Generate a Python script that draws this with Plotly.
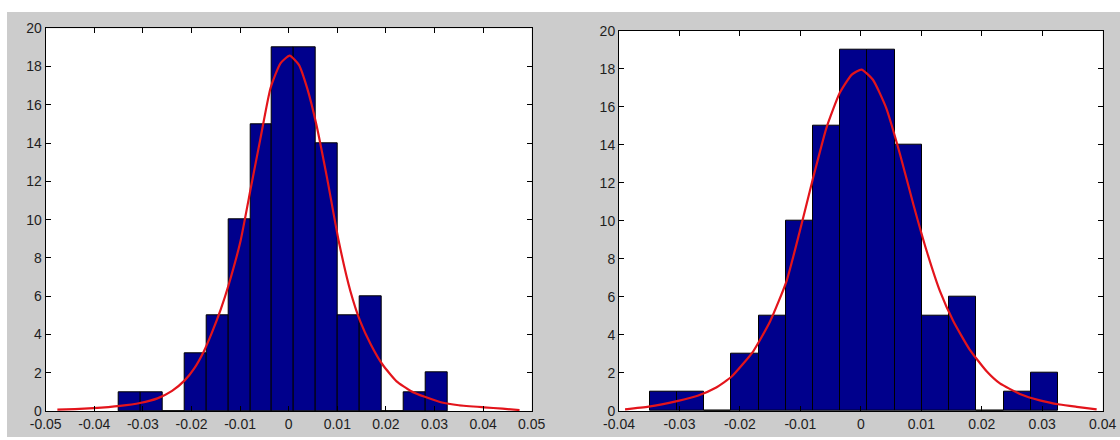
import plotly.graph_objects as go

# ---- data ----
bin_centers = [-0.03268, -0.02818, -0.02368, -0.01917, -0.01467, -0.01017, -0.00566,
               -0.00116, 0.00334, 0.00785, 0.01235, 0.01685, 0.02136, 0.02586, 0.03037]
bin_width = 0.004503
counts_left = [1, 1, 0, 3, 5, 10, 15, 19, 19, 14, 5, 6, 0, 1, 2]
counts_right = [1, 1, 0, 3, 5, 10, 15, 19, 19, 14, 5, 6, 0, 1, 2]

fit_left_x = [-0.0476, -0.0440, -0.0402, -0.0347, -0.0306, -0.0270, -0.0240, -0.0214,
              -0.0195, -0.0175, -0.0158, -0.0140, -0.01235, -0.0099, -0.0078, -0.0058,
              -0.00375, -0.0017, 0.0002, 0.0021, 0.0038, 0.0057, 0.0079, 0.0103, 0.0127,
              0.0147, 0.0169, 0.0193, 0.0222, 0.0251, 0.0280, 0.0313, 0.0350, 0.0402,
              0.0440, 0.0475]
fit_left_y = [0.07, 0.10, 0.15, 0.27, 0.42, 0.66, 1.05, 1.60, 2.20, 3.10, 4.10, 5.30, 6.60,
              8.90, 11.65, 14.26, 16.87, 18.17, 18.57, 18.09, 16.87, 14.96, 12.17, 8.87,
              6.26, 4.70, 3.48, 2.43, 1.55, 1.05, 0.74, 0.46, 0.30, 0.19, 0.12, 0.05]

fit_right_x = [-0.0390, -0.0351, -0.0304, -0.0270, -0.0240, -0.0214, -0.0178, -0.0150,
               -0.0123, -0.0101, -0.0079, -0.0057, -0.0035, -0.0015, 0.0001, 0.0020,
               0.0042, 0.0065, 0.0087, 0.0109, 0.0131, 0.0153, 0.0180, 0.0208, 0.0230,
               0.0263, 0.0296, 0.0329, 0.0357, 0.0390]
fit_right_y = [0.09, 0.23, 0.52, 0.80, 1.22, 1.80, 3.14, 4.72, 6.82, 9.45, 12.25, 14.88,
               16.72, 17.69, 17.95, 17.42, 15.93, 13.48, 10.85, 8.40, 6.29, 4.72, 3.23,
               2.09, 1.45, 0.90, 0.56, 0.34, 0.22, 0.09]

xticks_left = [-0.05, -0.04, -0.03, -0.02, -0.01, 0, 0.01, 0.02, 0.03, 0.04, 0.05]
xticktext_left = ["-0.05", "-0.04", "-0.03", "-0.02", "-0.01", "0", "0.01", "0.02", "0.03", "0.04", "0.05"]
xticks_right = [-0.04, -0.03, -0.02, -0.01, 0, 0.01, 0.02, 0.03, 0.04]
xticktext_right = ["-0.04", "-0.03", "-0.02", "-0.01", "0", "0.01", "0.02", "0.03", "0.04"]
yticks = [0, 2, 4, 6, 8, 10, 12, 14, 16, 18, 20]

# ---- styles ----
BAR_COLOR = "#00008C"
CURVE_COLOR = "#E3141B"
BG_GRAY = "#CCCCCC"
TXT = "#1E1E1E"
W, H = 1120, 440

fig = go.Figure()

for xa, ya, counts, fx, fy in [("x", "y", counts_left, fit_left_x, fit_left_y),
                               ("x2", "y2", counts_right, fit_right_x, fit_right_y)]:
    fig.add_trace(go.Bar(x=bin_centers, y=counts, width=bin_width,
                         marker=dict(color=BAR_COLOR, line=dict(color="#000000", width=1)),
                         xaxis=xa, yaxis=ya, showlegend=False, hoverinfo="x+y"))
    fig.add_trace(go.Scatter(x=fx, y=fy, mode="lines",
                             line=dict(color=CURVE_COLOR, width=2.2, shape="spline", smoothing=0.5),
                             xaxis=xa, yaxis=ya, showlegend=False))

axis_common = dict(showline=True, linecolor="#000000", linewidth=1, mirror="ticks",
                   ticks="inside", ticklen=5, tickcolor="#000000", showgrid=False,
                   zeroline=False, automargin=False,
                   tickfont=dict(family="Liberation Sans, Arial", size=14, color=TXT))

fig.update_layout(
    width=W, height=H, autosize=False,
    margin=dict(l=0, r=0, t=0, b=0, pad=0),
    paper_bgcolor=BG_GRAY, plot_bgcolor="#FFFFFF",
    bargap=0,
    xaxis=dict(domain=[45.7 / W, 531.7 / W], range=[-0.05, 0.05],
               tickvals=xticks_left, ticktext=xticktext_left, anchor="y", **axis_common),
    yaxis=dict(domain=[1 - 411 / H, 1 - 28.3 / H], range=[0, 20],
               tickvals=yticks, ticktext=[str(v) for v in yticks], anchor="x", **axis_common),
    xaxis2=dict(domain=[619 / W, 1102.7 / W], range=[-0.04, 0.04],
                tickvals=xticks_right, ticktext=xticktext_right, anchor="y2", **axis_common),
    yaxis2=dict(domain=[1 - 411 / H, 1 - 30.7 / H], range=[0, 20],
                tickvals=yticks, ticktext=[str(v) for v in yticks], anchor="x2", **axis_common),
    shapes=[
        dict(type="rect", xref="paper", yref="paper", x0=0, x1=1, y0=1 - 12 / H, y1=1,
             fillcolor="#FFFFFF", line=dict(width=0), layer="above"),
        dict(type="rect", xref="paper", yref="paper", x0=0, x1=7 / W, y0=0, y1=1,
             fillcolor="#FFFFFF", line=dict(width=0), layer="above"),
        dict(type="rect", xref="paper", yref="paper", x0=0, x1=1, y0=0, y1=3 / H,
             fillcolor="#FFFFFF", line=dict(width=0), layer="above"),
    ],
)

fig.write_html(
    "out.html",
    config={"displayModeBar": False},
    post_script="document.body.style.margin='0';document.body.style.overflow='hidden';",
)
